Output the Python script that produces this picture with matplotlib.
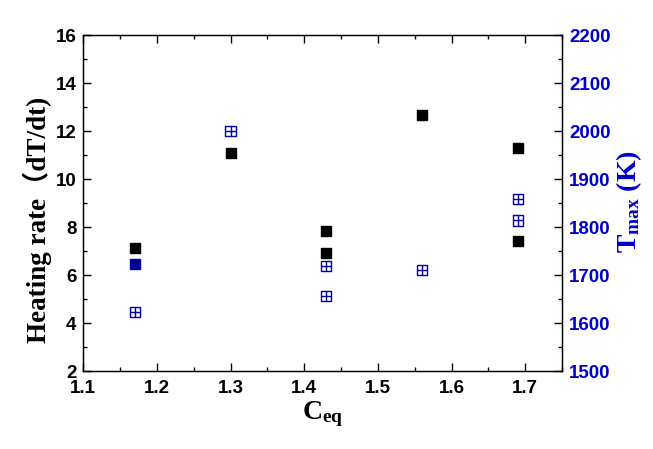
import matplotlib
matplotlib.use("Agg")
import matplotlib.pyplot as plt
from matplotlib.path import Path
from matplotlib.ticker import MultipleLocator

# heating rate (left axis)
ceq_rate = [1.17, 1.30, 1.43, 1.43, 1.56, 1.69, 1.69]
rate = [7.15, 11.08, 7.86, 6.94, 12.65, 11.28, 7.44]

# maximum temperature (right axis)
ceq_tmax = [1.17, 1.17, 1.30, 1.43, 1.43, 1.56, 1.69, 1.69]
tmax = [1724, 1623, 2000, 1719, 1657, 1711, 1858, 1814]

plt.rcParams['mathtext.fontset'] = 'custom'
plt.rcParams['mathtext.rm'] = 'Liberation Serif:bold'
plt.rcParams['mathtext.it'] = 'Liberation Serif:bold'
plt.rcParams['mathtext.bf'] = 'Liberation Serif:bold'
plt.rcParams['mathtext.default'] = 'rm'

blue = '#0000CC'
mark_blue = '#0000B0'

# square with a cross inside
verts = [(-1, -1), (1, -1), (1, 1), (-1, 1), (-1, -1),
         (-1, 0), (1, 0), (0, -1), (0, 1)]
codes = [Path.MOVETO, Path.LINETO, Path.LINETO, Path.LINETO, Path.CLOSEPOLY,
         Path.MOVETO, Path.LINETO, Path.MOVETO, Path.LINETO]
box_plus = Path(verts, codes)

fig = plt.figure(figsize=(6.53, 4.49), dpi=100)
ax = fig.add_axes([0.1276, 0.173, 0.733, 0.749])
ax2 = ax.twinx()

ax.scatter(ceq_rate, rate, marker='s', s=55, color='black', zorder=3)

faces = ['#000080' if i == 0 else 'none' for i in range(len(tmax))]
ax2.scatter(ceq_tmax, tmax, marker=box_plus, s=55, facecolors=faces,
            edgecolors=mark_blue, linewidths=1.0, zorder=3)

ax.set_xlim(1.1, 1.75)
ax.set_ylim(2, 16)
ax2.set_ylim(1500, 2200)

ax.xaxis.set_major_locator(MultipleLocator(0.1))
ax.xaxis.set_minor_locator(MultipleLocator(0.05))
ax.yaxis.set_major_locator(MultipleLocator(2))
ax.yaxis.set_minor_locator(MultipleLocator(1))
ax2.yaxis.set_major_locator(MultipleLocator(100))
ax2.yaxis.set_minor_locator(MultipleLocator(50))

ax.tick_params(which='both', direction='in', top=True, right=False, width=1.0)
ax.tick_params(which='major', length=6)
ax.tick_params(which='minor', length=3)
ax.tick_params(axis='x', pad=6)
ax.tick_params(axis='y', pad=5)
ax2.tick_params(which='both', direction='in', width=1.0, colors='black',
                labelcolor=blue, pad=5)
ax2.tick_params(which='major', length=6)
ax2.tick_params(which='minor', length=3)

for lab in ax.get_xticklabels() + ax.get_yticklabels() + ax2.get_yticklabels():
    lab.set_fontfamily('Liberation Sans')
    lab.set_fontweight('bold')
    lab.set_fontsize(13.5)

ax.set_xlabel('C$_{eq}$', fontfamily='Liberation Serif', fontweight='bold',
              fontsize=20, labelpad=2)
ax.set_ylabel('Heating rate\uff08dT/dt)',
              fontfamily=['Liberation Serif', 'Noto Sans CJK SC'],
              fontweight='bold', fontsize=19.5)
ax2.set_ylabel('T$_{max}$ (K)', fontfamily='Liberation Serif', fontweight='bold',
               fontsize=20, color=blue)
ax.yaxis.set_label_coords(-0.066, 0.45)
ax2.yaxis.set_label_coords(1.11, 0.505)

for sp in ax.spines.values():
    sp.set_linewidth(1.0)

fig.savefig('out.png', dpi=100)
